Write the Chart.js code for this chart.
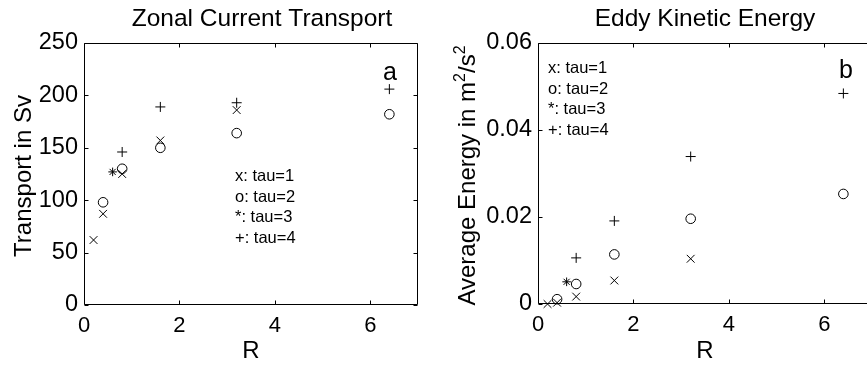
<!DOCTYPE html>
<html>
<head>
<meta charset="utf-8">
<script src="https://cdn.jsdelivr.net/npm/chart.js@4.4.0/dist/chart.umd.min.js"></script>
<style>
  html, body { margin: 0; padding: 0; background: #fff; overflow: hidden; }
  #wrap { position: relative; width: 867px; height: 366px; overflow: hidden; }
  #left { position: absolute; left: 0; top: 0; }
  #right { position: absolute; left: 430px; top: 0; }
</style>
</head>
<body>
<div id="wrap">
  <canvas id="left" width="430" height="366"></canvas>
  <canvas id="right" width="460" height="366"></canvas>
</div>
<script>
const FONT = '"Liberation Sans", Arial, Helvetica, sans-serif';

const rTicks = [0, 2, 4, 6];
const transportTicks = [0, 50, 100, 150, 200, 250];
const energyTicks = [0, 0.02, 0.04, 0.06];
const legendLines = ['x: tau=1', 'o: tau=2', '*: tau=3', '+: tau=4'];

const tau1R = [0.2, 0.4, 0.8, 1.6, 3.2];
const tau2R = [0.4, 0.8, 1.6, 3.2, 6.4];
const tau3R = [0.6];
const tau4R = [0.8, 1.6, 3.2, 6.4];

const transportTau1 = [62, 87, 125, 157, 186];
const transportTau2 = [98, 130, 150, 164, 182];
const transportTau3 = [127];
const transportTau4 = [146, 189, 193, 206];

const energyTau1 = [0.0000, 0.0003, 0.0017, 0.0054, 0.0104];
const energyTau2 = [0.0011, 0.0046, 0.0114, 0.0196, 0.0253];
const energyTau3 = [0.0051];
const energyTau4 = [0.0106, 0.0191, 0.0339, 0.0484];

function points(xs, ys) {
  return xs.map((x, i) => ({ x, y: ys[i] }));
}

function series(xs, ys, style, radius) {
  return {
    data: points(xs, ys),
    showLine: false,
    pointStyle: style,
    pointRadius: radius,
    pointHoverRadius: radius,
    pointBorderWidth: 1,
    borderColor: '#000',
    pointBorderColor: '#000',
    backgroundColor: 'rgba(0,0,0,0)',
    pointBackgroundColor: 'rgba(0,0,0,0)',
    clip: false,
  };
}

// box around the plot with matlab style inward ticks
const matlabAxes = {
  id: 'matlabAxes',
  beforeDatasetsDraw(chart) {
    const { ctx, chartArea: a, scales } = chart;
    const L = Math.round(a.left) + 0.5;
    const R = Math.round(a.right) - 0.5;
    const T = Math.round(a.top) + 0.5;
    const B = Math.round(a.bottom) - 0.5;
    ctx.save();
    ctx.strokeStyle = '#000';
    ctx.lineWidth = 1;
    ctx.beginPath();
    ctx.rect(L, T, R - L, B - T);
    scales.x.ticks.forEach((t) => {
      const px = Math.round(scales.x.getPixelForValue(t.value)) + 0.5;
      ctx.moveTo(px, B); ctx.lineTo(px, B - 4);
      ctx.moveTo(px, T); ctx.lineTo(px, T + 4);
    });
    scales.y.ticks.forEach((t) => {
      const py = Math.round(scales.y.getPixelForValue(t.value)) + 0.5;
      ctx.moveTo(L, py); ctx.lineTo(L + 4, py);
      ctx.moveTo(R, py); ctx.lineTo(R - 4, py);
    });
    ctx.stroke();
    ctx.restore();
  }
};

const panelText = {
  id: 'panelText',
  afterDraw(chart, args, opts) {
    const { ctx, chartArea: a } = chart;
    const midX = (a.left + a.right) / 2;
    ctx.save();
    ctx.fillStyle = '#000';
    ctx.textBaseline = 'alphabetic';
    ctx.textAlign = 'center';
    ctx.font = `24.5px ${FONT}`;
    ctx.fillText(opts.title, opts.titleX ?? midX, 26);
    ctx.font = `24px ${FONT}`;
    ctx.fillText('R', midX, 358);
    ctx.font = `25px ${FONT}`;
    ctx.fillText(opts.letter, opts.letterX, opts.letterY);
    ctx.font = `16.5px ${FONT}`;
    ctx.textAlign = 'left';
    legendLines.forEach((line, i) => {
      ctx.fillText(line, opts.legendX, opts.legendY + i * 20.7);
    });

    ctx.translate(opts.yLabelX, (a.top + a.bottom) / 2 + 2);
    ctx.rotate(-Math.PI / 2);
    const parts = opts.yLabel;
    const fontFor = (p) => (p.sup ? `16px ${FONT}` : `24px ${FONT}`);
    let total = 0;
    parts.forEach((p) => { ctx.font = fontFor(p); total += ctx.measureText(p.text).width; });
    let x = -total / 2;
    parts.forEach((p) => {
      ctx.font = fontFor(p);
      ctx.fillText(p.text, x, p.sup ? -10 : 0);
      x += ctx.measureText(p.text).width;
    });
    ctx.restore();
  }
};

function makeChart(id, opts) {
  return new Chart(document.getElementById(id), {
    type: 'scatter',
    data: { datasets: opts.datasets },
    options: {
      responsive: false,
      animation: false,
      events: [],
      layout: { padding: { left: 0, top: 43, right: opts.padRight, bottom: 0 } },
      plugins: {
        legend: { display: false },
        tooltip: { enabled: false },
        panelText: opts.text,
      },
      scales: {
        x: {
          type: 'linear',
          min: 0,
          max: 7,
          afterBuildTicks: (s) => { s.ticks = rTicks.map((v) => ({ value: v })); },
          afterFit: (s) => { s.height = opts.xHeight; },
          grid: { display: false, drawTicks: false },
          border: { display: false },
          ticks: {
            color: '#000',
            padding: 8,
            maxRotation: 0,
            font: { family: FONT, size: 22, lineHeight: 1.2 },
          },
        },
        y: {
          type: 'linear',
          min: 0,
          max: opts.yMax,
          afterBuildTicks: (s) => { s.ticks = opts.yTicks.map((v) => ({ value: v })); },
          afterFit: (s) => { s.width = opts.yWidth; },
          grid: { display: false, drawTicks: false },
          border: { display: false },
          ticks: {
            color: '#000',
            padding: 6,
            font: { family: FONT, size: 23.5 },
            callback: opts.yFormat,
          },
        },
      },
    },
    plugins: [matlabAxes, panelText],
  });
}

makeChart('left', {
  datasets: [
    series(tau1R, transportTau1, 'crossRot', 5.5),
    series(tau2R, transportTau2, 'circle', 4.8),
    series(tau3R, transportTau3, 'star', 4.3),
    series(tau4R, transportTau4, 'cross', 5),
  ],
  padRight: 12,
  xHeight: 61,
  yWidth: 84,
  yMax: 250,
  yTicks: transportTicks,
  yFormat: (v) => String(v),
  text: {
    title: 'Zonal Current Transport',
    titleX: 262,
    letter: 'a',
    letterX: 390,
    letterY: 80,
    legendX: 235,
    legendY: 181,
    yLabelX: 31,
    yLabel: [{ text: 'Transport in Sv' }],
  },
});

makeChart('right', {
  datasets: [
    series(tau1R, energyTau1, 'crossRot', 5.5),
    series(tau2R, energyTau2, 'circle', 4.8),
    series(tau3R, energyTau3, 'star', 4.3),
    series(tau4R, energyTau4, 'cross', 5),
  ],
  padRight: 18,
  xHeight: 62,
  yWidth: 108,
  yMax: 0.06,
  yTicks: energyTicks,
  yFormat: (v) => (v === 0 ? '0' : v.toFixed(2)),
  text: {
    title: 'Eddy Kinetic Energy',
    letter: 'b',
    letterX: 416,
    letterY: 78,
    legendX: 118,
    legendY: 73,
    yLabelX: 45,
    yLabel: [
      { text: 'Average Energy in m' },
      { text: '2', sup: true },
      { text: '/s' },
      { text: '2', sup: true },
    ],
  },
});
</script>
</body>
</html>
